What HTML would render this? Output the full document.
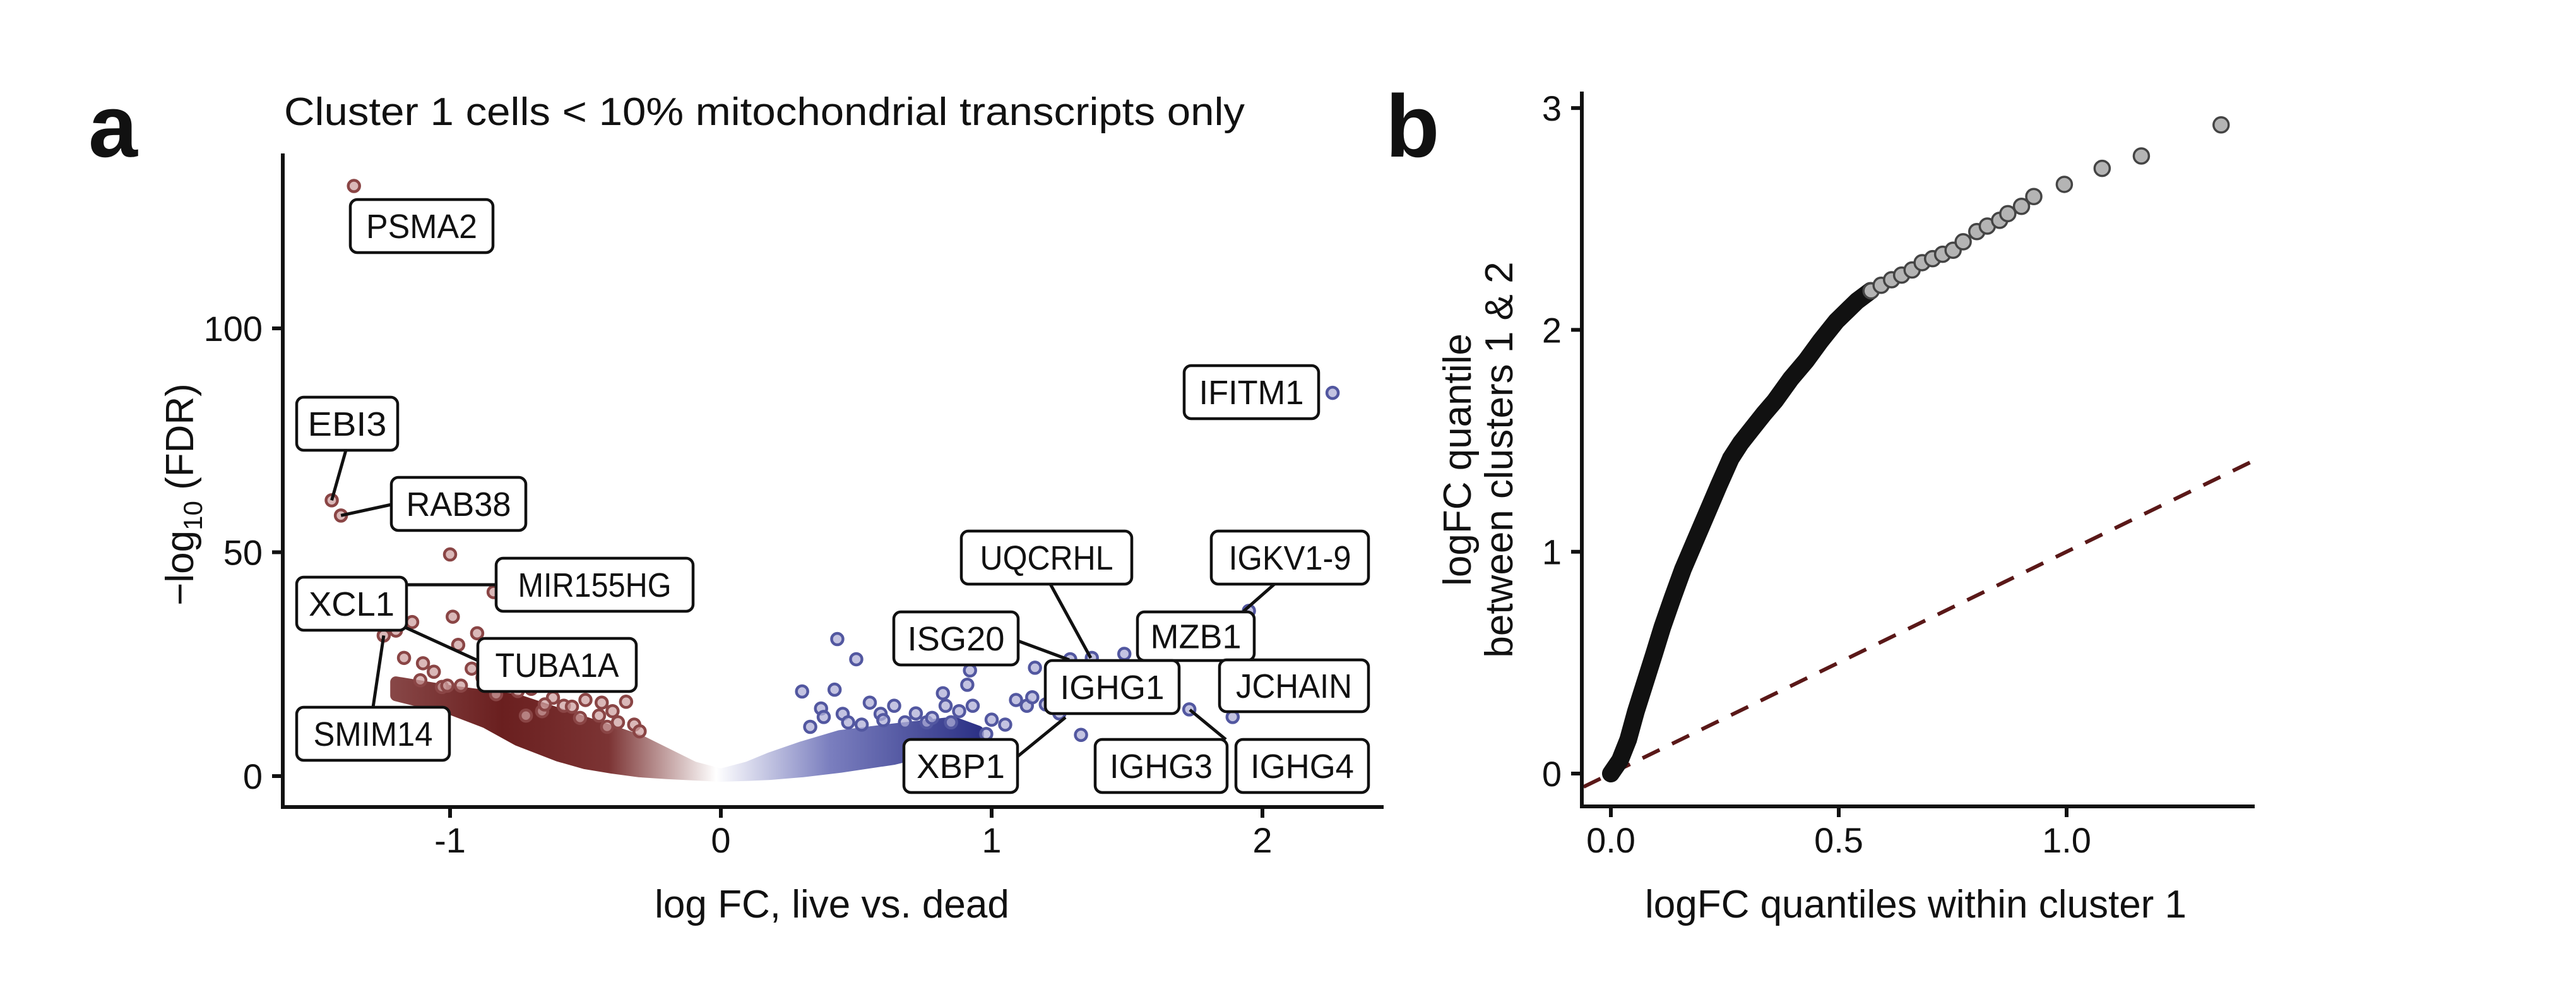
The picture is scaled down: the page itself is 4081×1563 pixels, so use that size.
<!DOCTYPE html>
<html><head><meta charset="utf-8"><style>
html,body{margin:0;padding:0;background:#fff;}
svg{display:block;font-family:"Liberation Sans",Arial,sans-serif;}
</style></head><body>
<svg id="fig" width="4081" height="1563" viewBox="0 0 4081 1563" xmlns="http://www.w3.org/2000/svg">
<rect width="4081" height="1563" fill="#fff"/>
<defs>
<linearGradient id="cloudGrad" gradientUnits="userSpaceOnUse" x1="600" y1="0" x2="1600" y2="0">
<stop offset="0" stop-color="#8a4a4a"/>
<stop offset="0.2" stop-color="#6a1f1f"/>
<stop offset="0.38" stop-color="#7c3434"/>
<stop offset="0.56" stop-color="#fff"/>
<stop offset="0.75" stop-color="#7b7fbf"/>
<stop offset="1" stop-color="#2d3286"/>
</linearGradient>
</defs>
<text x="140" y="248" font-size="140" font-weight="bold" fill="#111">a</text>
<text x="2195" y="248" font-size="140" font-weight="bold" fill="#111">b</text>
<text x="450" y="198" font-size="62" fill="#111" textLength="1522" lengthAdjust="spacingAndGlyphs">Cluster 1 cells &lt; 10% mitochondrial transcripts only</text>
<g id="panelA"></g>
<g id="panelB"></g>
</svg>
<script>
// ---------- Panel A data ----------
const aXTicks = [-1, 0, 1, 2];
const aYTicks = [0, 50, 100];
const cloudX = [-1.2, -1.0, -0.87, -0.75, -0.6, -0.5, -0.4, -0.3, -0.2, -0.1, 0, 0.1, 0.18, 0.3, 0.44, 0.64, 0.86, 0.95];
const cloudUpper = [21, 19, 18, 17, 14, 12, 10, 8, 5, 2, 0.4, 2, 4, 6.5, 9, 10.5, 12, 10];
const cloudLower = [18, 15, 12, 8, 4.5, 2.8, 1.8, 1, 0.6, 0.3, 0, 0.2, 0.4, 1, 2, 3.8, 7, 8.5];
const outFC = [-1.355, -1.437, -1.403, -0.839, -1.245, -1.0, -0.99, -1.14, -0.90, -1.17, -1.10, -0.97, -1.11, -1.03, -1.01, -0.96, -0.35, -0.44, -0.58, -0.66, -0.83, -1.06, -1.2,
  -0.8, -0.75, -0.7, -0.62, -0.55, -0.5, -0.45, -0.4, -0.38, -0.32, -0.3, -0.72, -0.65, -0.52, -0.42, -0.88, -0.92,
  2.259, 0.43, 0.50, 0.30, 0.42, 0.92, 0.91, 1.16, 1.49, 1.29, 1.37, 1.33, 1.89, 1.73, 1.95, 0.98, 1.00, 0.82, 0.83, 0.93, 1.09, 1.13, 1.15, 0.55, 0.64, 0.37, 0.38, 0.45, 0.59, 0.76, 1.25,
  0.33, 0.47, 0.52, 0.6, 0.68, 0.72, 0.78, 0.85, 0.88, 1.05, 1.2];
const outFDR = [131.8, 61.6, 58.2, 41.1, 31.4, 49.5, 35.6, 34.4, 31.9, 26.4, 25.2, 29.3, 21.4, 19.9, 20.2, 20.2, 16.6, 16.4, 15.7, 14.5, 18.3, 23.3, 32.5,
  21, 19, 19.5, 17.5, 15.5, 17, 13.5, 14.5, 12, 11.5, 10, 13.5, 16, 13, 11, 22, 24,
  85.6, 30.6, 26.1, 18.9, 19.3, 23.6, 20.4, 24.2, 27.3, 26.1, 26.4, 9.2, 13.2, 14.9, 36.9, 9.4, 12.6, 18.5, 15.7, 15.7, 17.0, 15.7, 17.6, 16.4, 15.7, 15.1, 13.2, 13.9, 13.9, 12.0, 14.0,
  11, 12, 11.5, 12.5, 12, 14, 13, 12, 14.5, 11.5, 16];
// annotation boxes (gene, box x1,y1,x2,y2 in px) - layout, not data
const geneLabels = ["PSMA2","EBI3","RAB38","MIR155HG","XCL1","TUBA1A","SMIM14","IFITM1","UQCRHL","IGKV1-9","ISG20","MZB1","IGHG1","JCHAIN","XBP1","IGHG3","IGHG4"];
const boxes = [[555,316,781,400],[470,629,630,713],[620,756,833,840],[786,884,1098,968],[470,914,644,998],[757,1011,1008,1095],[470,1120,712,1204],[1876,579,2089,663],[1523,841,1793,925],[1919,841,2168,925],[1416,969,1613,1053],[1802,969,1987,1046],[1656,1046,1868,1130],[1932,1045,2168,1127],[1432,1171,1612,1255],[1735,1171,1944,1255],[1958,1171,2168,1255]];
const connectors = [[644,926,786,926],[621,984,757,1046],[1664,925,1728,1042],[2019,925,1970,968],[1613,1015,1694,1045],[1612,1198,1688,1136],[1885,1124,1942,1171]];

// ---------- Panel B data ----------
const bXTicks = [0.0, 0.5, 1.0];
const bYTicks = [0, 1, 2, 3];
const denseX = [0, 0.02, 0.038, 0.055, 0.075, 0.095, 0.113, 0.135, 0.158, 0.185, 0.21, 0.237, 0.263, 0.285, 0.308, 0.335, 0.36, 0.395, 0.428, 0.46, 0.495, 0.52, 0.54, 0.57];
const denseY = [0, 0.06, 0.153, 0.28, 0.41, 0.54, 0.66, 0.79, 0.92, 1.05, 1.17, 1.30, 1.42, 1.49, 1.55, 1.62, 1.68, 1.78, 1.86, 1.95, 2.04, 2.09, 2.13, 2.176];
const tailX = [0.571, 0.593, 0.616, 0.638, 0.661, 0.683, 0.706, 0.728, 0.751, 0.773, 0.803, 0.826, 0.853, 0.871, 0.901, 0.928, 0.995, 1.078, 1.164, 1.339];
const tailY = [2.176, 2.201, 2.226, 2.247, 2.270, 2.303, 2.321, 2.341, 2.359, 2.397, 2.443, 2.468, 2.494, 2.524, 2.557, 2.601, 2.656, 2.728, 2.784, 2.924];

const NS = "http://www.w3.org/2000/svg";
function mk(tag, attrs, parent) {
  const e = document.createElementNS(NS, tag);
  for (const k in attrs) e.setAttribute(k, attrs[k]);
  parent.appendChild(e);
  return e;
}
// ---- Panel A ----
const A = document.getElementById('panelA');
const ax = v => 1142 + v * 429;
const ay = v => 1229 - v * 7.09;
const grad = document.getElementById('cloudGrad');
grad.setAttribute('x1', ax(-1.25)); grad.setAttribute('x2', ax(0.95));
let d = "";
for (let i = 0; i < cloudX.length; i++) d += (i ? "L" : "M") + ax(cloudX[i]) + "," + ay(cloudUpper[i]);
for (let i = cloudX.length - 1; i >= 0; i--) d += "L" + ax(cloudX[i]) + "," + ay(cloudLower[i]);
const cloud = mk('path', {d: d + "Z", fill: "url(#cloudGrad)", stroke: "url(#cloudGrad)", "stroke-width": 18, "stroke-linejoin": "round"}, A);


for (let i = 0; i < outFC.length; i++) {
  const red = outFC[i] < 0;
  const c = mk('circle', {cx: ax(outFC[i]), cy: ay(outFDR[i]), r: 9, fill: red ? "rgba(205,160,160,0.75)" : "rgba(175,175,215,0.75)", stroke: red ? "#8a4545" : "#5257a0", "stroke-width": 4.5}, A);
  
  
}
const ptLinks = [[1, 548, 713], [2, 620, 799], [4, 591, 1120]];
ptLinks.forEach(p => {
  const l = mk('line', {x1: p[1], y1: p[2], x2: ax(outFC[p[0]]), y2: ay(outFDR[p[0]]), stroke: "#111", "stroke-width": 5}, A);
  
  
});
connectors.forEach(c => {
  const l = mk('line', {x1: c[0], y1: c[1], x2: c[2], y2: c[3], stroke: "#111", "stroke-width": 5}, A);
  
  
});
geneLabels.forEach((g, i) => {
  const b = boxes[i];
  const grp = mk('g', {}, A);
  
  
  mk('rect', {x: b[0], y: b[1], width: b[2] - b[0], height: b[3] - b[1], rx: 11, fill: "#fff", stroke: "#111", "stroke-width": 4.5}, grp);
  const t = mk('text', {x: (b[0] + b[2]) / 2, y: (b[1] + b[3]) / 2 + 19, "font-size": 54, "text-anchor": "middle", fill: "#111", textLength: Math.round((b[2] - b[0]) * 0.78), lengthAdjust: "spacingAndGlyphs"}, grp);
  t.textContent = g;
});
mk('line', {x1: 448, y1: 243, x2: 448, y2: 1281, stroke: "#111", "stroke-width": 6}, A);
mk('line', {x1: 445, y1: 1278, x2: 2192, y2: 1278, stroke: "#111", "stroke-width": 6}, A);
aXTicks.forEach(v => {
  mk('line', {x1: ax(v), y1: 1278, x2: ax(v), y2: 1295, stroke: "#111", "stroke-width": 6}, A);
  const t = mk('text', {x: ax(v), y: 1350, "font-size": 56, "text-anchor": "middle", fill: "#111"}, A);
  
  
  t.textContent = v;
});
aYTicks.forEach(v => {
  mk('line', {x1: 431, y1: ay(v), x2: 448, y2: ay(v), stroke: "#111", "stroke-width": 6}, A);
  const t = mk('text', {x: 416, y: ay(v) + 20, "font-size": 56, "text-anchor": "end", fill: "#111"}, A);
  
  
  t.textContent = v;
});
const axt = mk('text', {x: 1318, y: 1453, "font-size": 62, "text-anchor": "middle", fill: "#111"}, A);


axt.textContent = "log FC, live vs. dead";
const ayt = mk('text', {x: 0, y: 0, "font-size": 62, "text-anchor": "middle", fill: "#111", transform: "translate(306,783) rotate(-90)"}, A);


ayt.innerHTML = '\u2212log<tspan font-size="42" dy="14">10</tspan><tspan dy="-14"> (FDR)</tspan>';

// ---- Panel B ----
const B = document.getElementById('panelB');
const bx = v => 2552 + v * 722;
const by = v => 1225 - v * 351.3;
const dl = mk('line', {x1: bx(-0.06), y1: by(-0.06), x2: bx(1.413), y2: by(1.413), stroke: "#5a1818", "stroke-width": 6, "stroke-dasharray": "30 22"}, B);


let pd = "";
for (let i = 0; i < denseX.length; i++) pd += (i ? "L" : "M") + bx(denseX[i]) + "," + by(denseY[i]);
const dp = mk('path', {d: pd, fill: "none", stroke: "#111", "stroke-width": 28, "stroke-linecap": "round", "stroke-linejoin": "round"}, B);


for (let i = 0; i < tailX.length; i++) {
  const c = mk('circle', {cx: bx(tailX[i]), cy: by(tailY[i]), r: 12, fill: "#b4b4b4", stroke: "#444", "stroke-width": 3.5}, B);
  
  
}
mk('line', {x1: 2506, y1: 145, x2: 2506, y2: 1280, stroke: "#111", "stroke-width": 6}, B);
mk('line', {x1: 2503, y1: 1277, x2: 3572, y2: 1277, stroke: "#111", "stroke-width": 6}, B);
bXTicks.forEach(v => {
  mk('line', {x1: bx(v), y1: 1277, x2: bx(v), y2: 1294, stroke: "#111", "stroke-width": 6}, B);
  const t = mk('text', {x: bx(v), y: 1350, "font-size": 56, "text-anchor": "middle", fill: "#111"}, B);
  
  
  t.textContent = v.toFixed(1);
});
bYTicks.forEach(v => {
  mk('line', {x1: 2489, y1: by(v), x2: 2506, y2: by(v), stroke: "#111", "stroke-width": 6}, B);
  const t = mk('text', {x: 2474, y: by(v) + 20, "font-size": 56, "text-anchor": "end", fill: "#111"}, B);
  
  
  t.textContent = v;
});
const bxt = mk('text', {x: 3035, y: 1453, "font-size": 62, "text-anchor": "middle", fill: "#111"}, B);


bxt.textContent = "logFC quantiles within cluster 1";
const byt1 = mk('text', {x: 0, y: 0, "font-size": 62, "text-anchor": "middle", fill: "#111", transform: "translate(2330,728) rotate(-90)"}, B);


byt1.textContent = "logFC quantile";
const byt2 = mk('text', {x: 0, y: 0, "font-size": 62, "text-anchor": "middle", fill: "#111", transform: "translate(2396,728) rotate(-90)"}, B);


byt2.textContent = "between clusters 1 & 2";
</script>
</body></html>
